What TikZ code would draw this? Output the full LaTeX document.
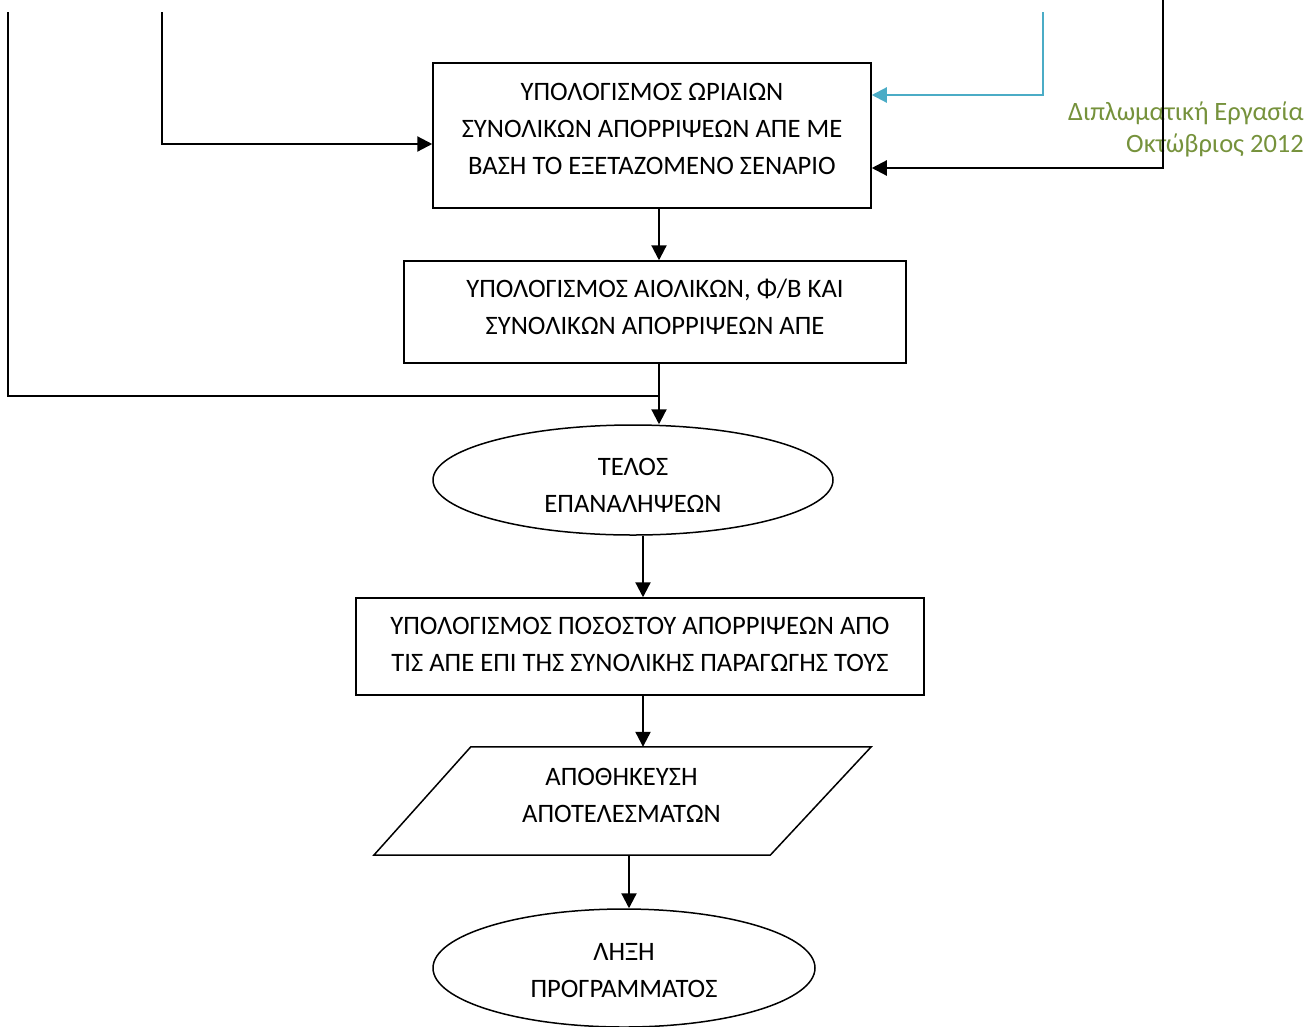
\documentclass[tikz,border=0pt]{standalone}
\usepackage{fontspec}
\setmainfont{Carlito}
\usetikzlibrary{shapes.geometric,arrows.meta,calc}
\definecolor{wmgreen}{HTML}{76923C}
\definecolor{lnblue}{HTML}{4BACC6}
\begin{document}
\begin{tikzpicture}[x=1pt,y=-1pt,
  shp/.style={draw, line width=1.5pt, inner sep=0pt},
  boxn/.style={shp, rectangle},
  elln/.style={shp, ellipse},
  txt/.style={font=\fontsize{26.6}{37}\selectfont, align=center, inner sep=0pt},
  wm/.style={font=\fontsize{26.5}{32}\selectfont, text=wmgreen, inner sep=0pt, anchor=base east},
  conn/.style={line width=2.2pt},
  thin/.style={line width=1.6pt},
  arr/.style={conn, -{Triangle[length=15pt,width=15pt]}}]
\useasboundingbox (0,0) rectangle (1313,1026);

% shapes
\node[boxn, minimum width=438pt, minimum height=145pt] (b1) at (652,135.5) {};
\node[txt] (t1) at (652,129) {ΥΠΟΛΟΓΙΣΜΟΣ ΩΡΙΑΙΩΝ\\ΣΥΝΟΛΙΚΩΝ ΑΠΟΡΡΙΨΕΩΝ ΑΠΕ ΜΕ\\ΒΑΣΗ ΤΟ ΕΞΕΤΑΖΟΜΕΝΟ ΣΕΝΑΡΙΟ};

\node[boxn, minimum width=502pt, minimum height=102pt] (b2) at (655,312) {};
\node[txt] (t2) at (655,306.5) {ΥΠΟΛΟΓΙΣΜΟΣ ΑΙΟΛΙΚΩΝ, Φ/Β ΚΑΙ\\ΣΥΝΟΛΙΚΩΝ ΑΠΟΡΡΙΨΕΩΝ ΑΠΕ};

\node[elln, minimum width=400pt, minimum height=110pt] (e1) at (633,480) {};
\node[txt] (t3) at (633,485) {ΤΕΛΟΣ\\ΕΠΑΝΑΛΗΨΕΩΝ};

\node[boxn, minimum width=568pt, minimum height=97pt] (b3) at (640,646.5) {};
\node[txt] (t4) at (640,644.5) {ΥΠΟΛΟΓΙΣΜΟΣ ΠΟΣΟΣΤΟΥ ΑΠΟΡΡΙΨΕΩΝ ΑΠΟ\\ΤΙΣ ΑΠΕ ΕΠΙ ΤΗΣ ΣΥΝΟΛΙΚΗΣ ΠΑΡΑΓΩΓΗΣ ΤΟΥΣ};

\node[inner sep=0pt, minimum width=497pt, minimum height=108pt] (par) at (622.5,801) {};
\draw[line width=1.5pt] ($(par.north west)+(97,0)$) -- (par.north east)
  -- ($(par.south east)+(-101,0)$) -- (par.south west) -- cycle;
\node[txt] (t5) at (621.5,795) {ΑΠΟΘΗΚΕΥΣΗ\\ΑΠΟΤΕΛΕΣΜΑΤΩΝ};

\node[elln, minimum width=382pt, minimum height=118pt] (e2) at (624,968) {};
\node[txt] (t6) at (624,971) {ΛΗΞΗ\\ΠΡΟΓΡΑΜΜΑΤΟΣ};

% watermark
\node[wm] (w1) at (1304,120) {Διπλωματική Εργασία};
\node[wm] (w2) at (1304,152) {Οκτώβριος 2012};

% helper coordinates
\coordinate (s1) at (8,12);
\coordinate (s2) at (162,12);
\coordinate (s3) at (1043,12);
\coordinate (s4) at (1163,0);
\coordinate (j) at (659,396);
\coordinate (x659) at (659,0);
\coordinate (x643) at (643,0);
\coordinate (x629) at (629,0);
\coordinate (y144) at (0,144);
\coordinate (y95) at (0,95);
\coordinate (y168) at (0,168);

% connectors
\draw[thin] (s1) |- (j);
\draw[arr] (s2) |- (b1.west |- y144);
\draw[arr, lnblue] (s3) |- (b1.east |- y95);
\draw[arr] (s4) |- (b1.east |- y168);
\draw[arr] (b1.south -| x659) -- (b2.north -| x659);
\draw[arr] (b2.south -| x659) -- (e1.north -| x659);
\draw[arr] (e1.south -| x643) -- (b3.north -| x643);
\draw[arr] (b3.south -| x643) -- (par.north -| x643);
\draw[arr] (par.south -| x629) -- (e2.north -| x629);
\end{tikzpicture}
\end{document}
